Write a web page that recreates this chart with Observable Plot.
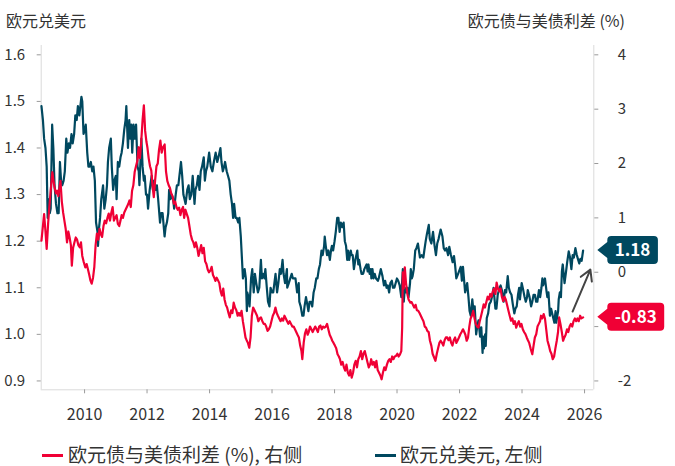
<!DOCTYPE html>
<html><head><meta charset="utf-8">
<script src="https://cdn.jsdelivr.net/npm/d3@7"></script>
<script src="https://cdn.jsdelivr.net/npm/@observablehq/plot@0.6"></script>
<style>
body{margin:0;background:#fff;font-family:"Noto Sans CJK SC","Noto Sans",sans-serif;}
#wrap{position:relative;width:675px;height:466px;}
#wrap svg{position:absolute;left:0;top:0;}
.title{position:absolute;top:9px;font-size:16px;line-height:22px;color:#333;white-space:nowrap;}
.sw{position:absolute;top:454px;width:21px;height:3px;}
.lt{position:absolute;top:444px;font-size:19px;line-height:19px;color:#333;white-space:nowrap;}
</style></head>
<body><div id="wrap">
<div class="title" style="left:6px">欧元兑美元</div>
<div class="title" style="right:50px">欧元债与美债利差 (%)</div>
<span class="sw" id="sw1" style="left:42px"></span><span class="lt" style="left:68px">欧元债与美债利差 (%), 右侧</span>
<span class="sw" id="sw2" style="left:375px"></span><span class="lt" style="left:400px">欧元兑美元, 左侧</span>
</div>
<script>
const RED = "#f00035", TEAL = "#00485f";
const FONT = '"Noto Sans CJK SC","Noto Sans",sans-serif';

// EUR/USD (left axis)
const eurusd = [
["2008-08-15",1.49],["2008-09-01",1.46],["2008-09-15",1.42],["2008-10-01",1.40],["2008-10-15",1.36],["2008-10-27",1.25],["2008-11-05",1.29],["2008-11-20",1.26],["2008-12-01",1.27],["2008-12-18",1.45],
["2009-01-01",1.40],["2009-01-15",1.32],["2009-02-01",1.28],["2009-02-18",1.26],["2009-03-04",1.26],["2009-03-19",1.37],["2009-04-01",1.33],["2009-04-15",1.32],["2009-05-01",1.33],["2009-05-15",1.35],
["2009-06-01",1.42],["2009-06-15",1.39],["2009-07-01",1.41],["2009-07-15",1.40],["2009-08-01",1.43],["2009-08-15",1.41],["2009-09-01",1.43],["2009-09-15",1.47],["2009-10-01",1.46],["2009-10-15",1.49],
["2009-11-01",1.47],["2009-11-25",1.51],["2009-12-05",1.50],["2009-12-20",1.43],["2010-01-05",1.44],["2010-01-15",1.45],["2010-02-01",1.39],["2010-02-15",1.36],["2010-03-01",1.36],["2010-03-15",1.37],
["2010-04-01",1.35],["2010-04-15",1.36],["2010-05-01",1.33],["2010-05-15",1.24],["2010-06-01",1.22],["2010-06-07",1.19],["2010-06-20",1.23],["2010-07-01",1.25],["2010-07-15",1.29],["2010-08-05",1.32],
["2010-08-20",1.27],["2010-09-05",1.29],["2010-09-20",1.32],["2010-10-01",1.37],["2010-10-15",1.40],["2010-11-04",1.42],["2010-11-15",1.36],["2010-12-01",1.31],["2010-12-15",1.33],["2011-01-01",1.34],
["2011-01-10",1.29],["2011-01-25",1.37],["2011-02-10",1.36],["2011-02-25",1.38],["2011-03-10",1.39],["2011-03-25",1.41],["2011-04-10",1.44],["2011-04-25",1.46],["2011-05-04",1.49],["2011-05-23",1.40],
["2011-06-07",1.46],["2011-06-20",1.42],["2011-07-01",1.45],["2011-07-12",1.39],["2011-07-27",1.45],["2011-08-10",1.42],["2011-08-26",1.45],["2011-09-12",1.36],["2011-09-26",1.35],["2011-10-04",1.32],
["2011-10-27",1.42],["2011-11-10",1.36],["2011-11-25",1.33],["2011-12-05",1.34],["2011-12-20",1.30],["2012-01-01",1.30],["2012-01-13",1.27],["2012-02-01",1.31],["2012-02-24",1.34],["2012-03-10",1.31],
["2012-03-25",1.33],["2012-04-10",1.31],["2012-04-25",1.32],["2012-05-10",1.29],["2012-06-01",1.24],["2012-06-15",1.26],["2012-07-01",1.26],["2012-07-24",1.21],["2012-08-05",1.23],["2012-08-20",1.24],
["2012-09-05",1.26],["2012-09-15",1.31],["2012-10-01",1.29],["2012-10-15",1.30],["2012-11-01",1.29],["2012-11-13",1.27],["2012-12-01",1.30],["2012-12-15",1.32],["2013-01-01",1.32],["2013-02-01",1.37],
["2013-02-15",1.34],["2013-03-01",1.30],["2013-03-27",1.28],["2013-04-15",1.31],["2013-05-01",1.32],["2013-05-15",1.29],["2013-06-01",1.30],["2013-06-18",1.34],["2013-07-09",1.28],["2013-07-20",1.31],
["2013-08-05",1.32],["2013-08-20",1.34],["2013-09-05",1.31],["2013-09-20",1.35],["2013-10-05",1.36],["2013-10-25",1.38],["2013-11-07",1.33],["2013-11-20",1.35],["2013-12-05",1.36],["2013-12-27",1.39],
["2014-01-15",1.36],["2014-02-03",1.35],["2014-02-20",1.37],["2014-03-13",1.39],["2014-04-01",1.37],["2014-04-15",1.38],["2014-05-08",1.40],["2014-05-20",1.37],["2014-06-05",1.35],["2014-06-20",1.36],
["2014-07-01",1.37],["2014-07-20",1.35],["2014-08-05",1.34],["2014-08-20",1.33],["2014-09-05",1.30],["2014-09-20",1.28],["2014-10-03",1.25],["2014-10-15",1.28],["2014-11-01",1.25],["2014-11-15",1.25],
["2014-12-01",1.24],["2014-12-15",1.25],["2015-01-01",1.21],["2015-01-15",1.16],["2015-01-26",1.12],["2015-02-15",1.14],["2015-03-01",1.12],["2015-03-13",1.05],["2015-03-18",1.09],["2015-04-01",1.08],
["2015-04-13",1.06],["2015-05-01",1.12],["2015-05-15",1.14],["2015-06-01",1.09],["2015-06-15",1.13],["2015-07-01",1.11],["2015-07-20",1.09],["2015-08-05",1.10],["2015-08-24",1.16],["2015-09-05",1.12],
["2015-09-20",1.13],["2015-10-05",1.12],["2015-10-15",1.14],["2015-11-01",1.10],["2015-11-15",1.07],["2015-12-02",1.06],["2015-12-15",1.10],["2016-01-01",1.09],["2016-01-15",1.09],["2016-02-11",1.13],
["2016-02-29",1.09],["2016-03-15",1.11],["2016-04-01",1.14],["2016-04-15",1.13],["2016-05-03",1.16],["2016-05-15",1.13],["2016-06-01",1.11],["2016-06-23",1.14],["2016-06-27",1.10],["2016-07-15",1.11],
["2016-08-01",1.12],["2016-08-18",1.13],["2016-09-01",1.12],["2016-09-15",1.12],["2016-10-01",1.12],["2016-10-20",1.09],["2016-11-08",1.11],["2016-11-15",1.07],["2016-12-01",1.06],["2016-12-20",1.04],
["2017-01-03",1.04],["2017-01-15",1.06],["2017-02-01",1.08],["2017-02-20",1.06],["2017-03-01",1.05],["2017-03-15",1.07],["2017-04-01",1.07],["2017-04-15",1.06],["2017-05-01",1.09],["2017-05-15",1.10],
["2017-06-01",1.12],["2017-06-15",1.12],["2017-07-01",1.14],["2017-07-15",1.15],["2017-08-01",1.18],["2017-08-15",1.17],["2017-09-01",1.19],["2017-09-08",1.21],["2017-09-20",1.19],["2017-10-05",1.17],
["2017-10-20",1.18],["2017-11-07",1.16],["2017-11-20",1.18],["2017-12-01",1.19],["2017-12-15",1.18],["2018-01-01",1.20],["2018-01-15",1.22],["2018-02-01",1.25],["2018-02-15",1.25],["2018-03-01",1.22],
["2018-03-15",1.24],["2018-04-01",1.23],["2018-04-17",1.24],["2018-05-01",1.20],["2018-05-15",1.19],["2018-05-29",1.16],["2018-06-07",1.18],["2018-06-21",1.16],["2018-07-09",1.18],["2018-07-20",1.17],
["2018-08-01",1.17],["2018-08-15",1.14],["2018-09-01",1.16],["2018-09-24",1.18],["2018-10-05",1.15],["2018-10-15",1.16],["2018-11-01",1.14],["2018-11-12",1.13],["2018-12-01",1.13],["2018-12-15",1.14],
["2019-01-10",1.15],["2019-01-23",1.135],["2019-02-01",1.15],["2019-02-15",1.13],["2019-03-01",1.14],["2019-03-07",1.12],["2019-03-20",1.14],["2019-04-01",1.12],["2019-04-15",1.13],["2019-05-01",1.12],
["2019-05-23",1.115],["2019-06-01",1.12],["2019-06-25",1.14],["2019-07-15",1.125],["2019-08-01",1.105],["2019-08-15",1.115],["2019-09-01",1.10],["2019-09-15",1.105],["2019-10-01",1.09],["2019-10-15",1.11],
["2019-11-01",1.115],["2019-11-15",1.10],["2019-12-01",1.10],["2019-12-31",1.12],["2020-01-15",1.115],["2020-02-01",1.105],["2020-02-20",1.08],["2020-03-09",1.14],["2020-03-20",1.07],["2020-04-01",1.10],
["2020-04-15",1.09],["2020-05-01",1.10],["2020-05-15",1.08],["2020-06-01",1.11],["2020-06-10",1.14],["2020-06-22",1.12],["2020-07-01",1.125],["2020-07-15",1.14],["2020-08-01",1.18],["2020-08-15",1.185],
["2020-09-01",1.195],["2020-09-25",1.165],["2020-10-15",1.17],["2020-11-04",1.165],["2020-11-15",1.18],["2020-12-01",1.20],["2020-12-15",1.215],["2021-01-06",1.235],["2021-01-18",1.205],["2021-02-05",1.195],
["2021-02-25",1.22],["2021-03-15",1.19],["2021-03-31",1.17],["2021-04-15",1.195],["2021-05-01",1.205],["2021-05-25",1.225],["2021-06-15",1.21],["2021-06-30",1.185],["2021-07-15",1.18],["2021-08-01",1.185],
["2021-08-20",1.17],["2021-09-03",1.188],["2021-09-20",1.172],["2021-10-12",1.155],["2021-10-28",1.168],["2021-11-10",1.148],["2021-11-24",1.12],["2021-12-15",1.13],["2022-01-14",1.145],["2022-01-28",1.115],
["2022-02-10",1.145],["2022-03-07",1.09],["2022-03-31",1.11],["2022-04-15",1.08],["2022-04-28",1.05],["2022-05-12",1.04],["2022-05-30",1.075],["2022-06-15",1.045],["2022-06-27",1.06],["2022-07-14",1.00],
["2022-07-29",1.02],["2022-08-10",1.03],["2022-08-29",0.995],["2022-09-12",1.015],["2022-09-27",0.96],["2022-10-04",0.995],["2022-10-13",0.97],["2022-10-27",1.00],["2022-11-03",0.975],["2022-11-15",1.035],
["2022-12-01",1.045],["2022-12-15",1.065],["2023-01-01",1.07],["2023-01-26",1.09],["2023-02-02",1.10],["2023-02-24",1.055],["2023-03-08",1.055],["2023-03-23",1.085],["2023-04-14",1.10],["2023-04-26",1.105],
["2023-05-10",1.095],["2023-05-31",1.07],["2023-06-15",1.095],["2023-06-30",1.09],["2023-07-18",1.125],["2023-07-31",1.10],["2023-08-15",1.09],["2023-08-31",1.085],["2023-09-15",1.065],["2023-10-03",1.045],
["2023-10-15",1.055],["2023-10-31",1.06],["2023-11-15",1.085],["2023-11-29",1.10],["2023-12-08",1.075],["2023-12-28",1.11],["2024-01-15",1.095],["2024-01-31",1.08],["2024-02-14",1.07],["2024-02-29",1.08],
["2024-03-08",1.095],["2024-03-29",1.08],["2024-04-16",1.06],["2024-04-30",1.07],["2024-05-15",1.085],["2024-05-31",1.085],["2024-06-14",1.07],["2024-06-28",1.07],["2024-07-17",1.095],["2024-07-31",1.08],
["2024-08-15",1.10],["2024-08-26",1.12],["2024-09-03",1.105],["2024-09-25",1.12],["2024-10-15",1.09],["2024-10-23",1.08],["2024-11-05",1.09],["2024-11-22",1.04],["2024-12-06",1.055],["2024-12-31",1.035],
["2025-01-13",1.025],["2025-01-27",1.05],["2025-02-03",1.025],["2025-02-26",1.05],["2025-03-05",1.075],["2025-03-18",1.09],["2025-03-31",1.08],["2025-04-11",1.135],["2025-04-21",1.15],["2025-05-12",1.11],
["2025-05-30",1.135],["2025-06-12",1.155],["2025-06-30",1.178],["2025-07-15",1.165],["2025-07-31",1.14],["2025-08-15",1.17],["2025-08-29",1.165],["2025-09-16",1.185],["2025-09-30",1.172],["2025-10-15",1.162],
["2025-10-31",1.152],["2025-11-14",1.162],["2025-11-28",1.158],["2025-12-15",1.18]
];

// Euro vs US government bond yield spread, % (right axis)
const spread = [
["2008-08-15",0.58],["2008-09-01",0.85],["2008-09-15",1.07],["2008-10-01",0.75],["2008-10-15",0.43],["2008-11-01",0.9],["2008-11-15",1.2],["2008-12-01",1.5],["2008-12-20",1.84],["2009-01-01",1.7],
["2009-01-15",1.56],["2009-02-01",1.45],["2009-02-15",1.5],["2009-03-01",1.4],["2009-03-25",1.68],["2009-04-10",1.3],["2009-04-25",1.1],["2009-05-10",0.95],["2009-05-25",0.8],["2009-06-10",0.55],
["2009-06-25",0.75],["2009-07-10",0.64],["2009-07-25",0.5],["2009-08-05",0.12],["2009-08-20",0.45],["2009-09-05",0.55],["2009-09-20",0.64],["2009-10-05",0.6],["2009-10-20",0.5],["2009-11-05",0.46],
["2009-11-20",0.55],["2009-12-05",0.3],["2009-12-20",0.2],["2010-01-10",0.09],["2010-01-25",0.15],["2010-02-10",0.05],["2010-02-25",-0.05],["2010-03-10",-0.15],["2010-03-25",-0.21],["2010-04-10",-0.1],
["2010-04-25",0.1],["2010-05-10",0.5],["2010-05-25",0.71],["2010-06-10",0.6],["2010-06-25",0.8],["2010-07-10",0.7],["2010-07-25",0.65],["2010-08-10",0.85],["2010-08-25",0.95],["2010-09-10",0.9],
["2010-09-25",1.0],["2010-10-10",1.08],["2010-10-25",0.95],["2010-11-10",1.1],["2010-11-25",1.2],["2010-12-10",0.95],["2010-12-25",1.0],["2011-01-10",1.05],["2011-01-25",0.89],["2011-02-10",0.85],
["2011-02-25",0.95],["2011-03-10",1.05],["2011-03-25",1.0],["2011-04-10",1.1],["2011-04-25",1.15],["2011-05-10",1.2],["2011-05-25",1.25],["2011-06-10",1.32],["2011-06-25",1.2],["2011-07-10",1.5],
["2011-07-25",1.6],["2011-08-10",1.85],["2011-08-25",1.95],["2011-09-10",2.05],["2011-09-25",2.3],["2011-10-10",2.1],["2011-10-25",2.4],["2011-11-10",2.8],["2011-11-25",3.07],["2011-12-10",2.6],
["2011-12-25",2.4],["2012-01-05",2.3],["2012-01-20",2.1],["2012-02-05",1.95],["2012-02-20",1.87],["2012-03-05",1.6],["2012-03-20",1.38],["2012-04-05",1.7],["2012-04-20",1.95],["2012-05-05",2.0],
["2012-05-20",2.25],["2012-06-05",2.42],["2012-06-20",2.2],["2012-07-05",2.3],["2012-07-25",2.35],["2012-08-10",1.85],["2012-08-25",1.68],["2012-09-10",1.6],["2012-09-25",1.55],["2012-10-10",1.45],
["2012-10-25",1.4],["2012-11-10",1.26],["2012-11-25",1.3],["2012-12-10",1.2],["2012-12-25",1.15],["2013-01-10",1.19],["2013-01-25",1.05],["2013-02-10",1.15],["2013-02-25",1.2],["2013-03-10",1.0],
["2013-03-25",1.15],["2013-04-10",1.07],["2013-04-25",1.0],["2013-05-10",0.85],["2013-05-25",0.7],["2013-06-10",0.6],["2013-06-25",0.55],["2013-07-10",0.46],["2013-07-25",0.55],["2013-08-10",0.45],
["2013-08-25",0.3],["2013-09-10",0.4],["2013-09-25",0.5],["2013-10-10",0.35],["2013-10-25",0.45],["2013-11-10",0.2],["2013-11-25",0.15],["2013-12-10",0.05],["2013-12-25",0.0],["2014-01-10",0.03],
["2014-01-25",0.1],["2014-02-10",-0.05],["2014-02-25",-0.1],["2014-03-10",-0.16],["2014-03-25",-0.1],["2014-04-10",-0.15],["2014-04-25",-0.2],["2014-05-10",-0.35],["2014-05-25",-0.43],["2014-06-10",-0.3],
["2014-06-25",-0.5],["2014-07-10",-0.6],["2014-07-25",-0.65],["2014-08-10",-0.75],["2014-08-25",-0.83],["2014-09-10",-0.7],["2014-09-25",-0.75],["2014-10-10",-0.56],["2014-10-25",-0.65],["2014-11-10",-0.7],
["2014-11-25",-0.8],["2014-12-10",-0.75],["2014-12-25",-0.8],["2015-01-10",-0.71],["2015-01-25",-0.9],["2015-02-10",-1.05],["2015-02-25",-1.2],["2015-03-10",-1.25],["2015-03-25",-1.3],["2015-04-10",-1.39],
["2015-04-25",-1.2],["2015-05-10",-0.8],["2015-05-25",-0.65],["2015-06-10",-0.7],["2015-06-25",-0.75],["2015-07-10",-0.8],["2015-07-25",-0.9],["2015-08-10",-0.85],["2015-08-25",-0.83],["2015-09-10",-0.9],
["2015-09-25",-0.95],["2015-10-10",-0.95],["2015-10-25",-1.0],["2015-11-10",-1.08],["2015-11-25",-1.05],["2015-12-10",-1.0],["2015-12-25",-0.9],["2016-01-10",-0.8],["2016-01-25",-0.75],["2016-02-10",-0.65],
["2016-02-25",-0.75],["2016-03-10",-0.8],["2016-03-25",-0.85],["2016-04-10",-0.9],["2016-04-25",-0.85],["2016-05-10",-0.89],["2016-05-25",-0.8],["2016-06-10",-0.85],["2016-06-25",-0.9],["2016-07-10",-0.95],
["2016-07-25",-0.9],["2016-08-10",-0.95],["2016-08-25",-1.0],["2016-09-10",-1.0],["2016-09-25",-1.05],["2016-10-10",-1.1],["2016-10-25",-1.15],["2016-11-10",-1.2],["2016-11-25",-1.35],["2016-12-10",-1.45],
["2016-12-20",-1.6],["2017-01-05",-1.3],["2017-01-20",-1.13],["2017-02-05",-1.05],["2017-02-20",-1.15],["2017-03-05",-1.1],["2017-03-20",-1.0],["2017-04-05",-1.05],["2017-04-20",-1.1],["2017-05-05",-1.05],
["2017-05-20",-1.0],["2017-06-05",-1.05],["2017-06-20",-1.1],["2017-07-05",-1.0],["2017-07-20",-0.98],["2017-08-05",-1.05],["2017-08-20",-1.0],["2017-09-05",-1.02],["2017-09-20",-1.0],["2017-10-05",-0.95],
["2017-10-20",-1.05],["2017-11-05",-1.15],["2017-11-20",-1.2],["2017-12-05",-1.26],["2017-12-20",-1.3],["2018-01-05",-1.35],["2018-01-20",-1.4],["2018-02-05",-1.51],["2018-02-20",-1.55],["2018-03-05",-1.6],
["2018-03-20",-1.7],["2018-04-05",-1.65],["2018-04-20",-1.75],["2018-05-05",-1.81],["2018-05-20",-1.7],["2018-06-05",-1.85],["2018-06-20",-1.9],["2018-07-05",-1.8],["2018-07-20",-1.94],["2018-08-05",-1.85],
["2018-08-20",-1.7],["2018-09-05",-1.63],["2018-09-20",-1.75],["2018-10-05",-1.6],["2018-10-20",-1.55],["2018-11-05",-1.45],["2018-11-20",-1.6],["2018-12-05",-1.5],["2018-12-20",-1.45],["2019-01-05",-1.55],
["2019-01-20",-1.65],["2019-02-05",-1.75],["2019-02-20",-1.7],["2019-03-05",-1.6],["2019-03-20",-1.7],["2019-04-05",-1.65],["2019-04-20",-1.75],["2019-05-05",-1.63],["2019-05-20",-1.8],["2019-06-05",-1.85],
["2019-06-20",-1.9],["2019-07-05",-1.97],["2019-07-20",-1.85],["2019-08-05",-1.75],["2019-08-20",-1.8],["2019-09-05",-1.7],["2019-09-20",-1.63],["2019-10-05",-1.6],["2019-10-20",-1.65],["2019-11-05",-1.55],
["2019-11-20",-1.6],["2019-12-05",-1.55],["2019-12-20",-1.54],["2020-01-05",-1.5],["2020-01-20",-1.55],["2020-02-05",-1.51],["2020-02-20",-1.45],["2020-03-01",-1.02],["2020-03-09",0.0],["2020-03-20",-0.3],
["2020-04-01",0.09],["2020-04-15",-0.2],["2020-05-01",-0.4],["2020-05-15",-0.5],["2020-06-05",-0.56],["2020-06-20",-0.55],["2020-07-05",-0.6],["2020-07-20",-0.65],["2020-08-05",-0.6],["2020-08-20",-0.7],
["2020-09-05",-0.71],["2020-09-20",-0.75],["2020-10-05",-0.8],["2020-10-20",-0.85],["2020-11-05",-0.9],["2020-11-20",-1.0],["2020-12-05",-1.02],["2020-12-20",-1.08],["2021-01-05",-1.1],["2021-01-20",-1.26],
["2021-02-05",-1.35],["2021-02-20",-1.5],["2021-03-05",-1.55],["2021-03-25",-1.63],["2021-04-10",-1.5],["2021-04-25",-1.4],["2021-05-10",-1.3],["2021-05-25",-1.26],["2021-06-10",-1.3],["2021-06-25",-1.35],
["2021-07-10",-1.25],["2021-07-25",-1.2],["2021-08-10",-1.2],["2021-08-25",-1.25],["2021-09-10",-1.2],["2021-09-25",-1.3],["2021-10-10",-1.35],["2021-10-25",-1.25],["2021-11-10",-1.2],["2021-11-25",-1.3],
["2021-12-10",-1.25],["2021-12-25",-1.2],["2022-01-10",-1.14],["2022-01-25",-1.1],["2022-02-10",-1.05],["2022-02-25",-1.1],["2022-03-10",-1.15],["2022-03-25",-1.26],["2022-04-10",-1.2],["2022-04-25",-1.0],
["2022-05-10",-0.85],["2022-05-25",-0.8],["2022-06-10",-0.71],["2022-06-25",-0.85],["2022-07-10",-0.95],["2022-07-25",-1.0],["2022-08-10",-1.02],["2022-08-25",-0.9],["2022-09-10",-0.8],["2022-09-25",-0.7],
["2022-10-10",-0.59],["2022-10-25",-0.65],["2022-11-10",-0.55],["2022-11-25",-0.45],["2022-12-10",-0.5],["2022-12-25",-0.4],["2023-01-10",-0.45],["2023-01-25",-0.35],["2023-02-10",-0.3],["2023-02-25",-0.4],
["2023-03-10",-0.19],["2023-03-25",-0.3],["2023-04-10",-0.35],["2023-04-25",-0.3],["2023-05-10",-0.45],["2023-05-25",-0.53],["2023-06-10",-0.45],["2023-06-25",-0.5],["2023-07-10",-0.6],["2023-07-25",-0.7],
["2023-08-10",-0.8],["2023-08-25",-0.89],["2023-09-10",-0.85],["2023-09-25",-0.95],["2023-10-10",-0.9],["2023-10-25",-1.02],["2023-11-10",-0.95],["2023-11-25",-0.9],["2023-12-10",-1.0],["2023-12-25",-0.95],
["2024-01-10",-1.05],["2024-01-25",-1.1],["2024-02-10",-1.14],["2024-02-25",-1.2],["2024-03-10",-1.25],["2024-03-25",-1.3],["2024-04-10",-1.4],["2024-04-30",-1.51],["2024-05-15",-1.35],["2024-05-30",-1.2],
["2024-06-15",-1.14],["2024-06-30",-1.0],["2024-07-15",-0.95],["2024-07-30",-0.9],["2024-08-10",-0.8],["2024-08-25",-0.85],["2024-09-10",-0.77],["2024-09-25",-0.85],["2024-10-10",-1.05],["2024-10-25",-1.26],
["2024-11-10",-1.35],["2024-11-25",-1.45],["2024-12-10",-1.5],["2024-12-25",-1.6],["2025-01-10",-1.55],["2025-01-25",-1.4],["2025-02-10",-1.26],["2025-02-25",-1.1],["2025-03-10",-0.83],["2025-03-25",-0.95],
["2025-04-10",-1.1],["2025-04-25",-1.26],["2025-05-10",-1.2],["2025-05-25",-1.15],["2025-06-10",-1.05],["2025-06-25",-1.1],["2025-07-10",-1.0],["2025-07-25",-0.95],["2025-08-10",-1.0],["2025-08-25",-0.9],
["2025-09-10",-0.85],["2025-09-25",-0.9],["2025-10-10",-0.85],["2025-10-25",-0.9],["2025-11-10",-0.8],["2025-11-25",-0.85],["2025-12-15",-0.83]
];

const leftTicks = [0.9, 1.0, 1.1, 1.2, 1.3, 1.4, 1.5, 1.6];
const rightTicks = [-2, -1, 0, 1, 2, 3, 4];
const rightHiddenLabels = [-1]; // covered by the end-value tag in the original
const yearTicks = [2010, 2012, 2014, 2016, 2018, 2020, 2022, 2024, 2026];
const xDomain = ["2008-08-12", "2026-04-19"];
const yDomain = [0.881, 1.62];
const arrowPts = [["2025-08-14", 1.049], ["2026-03-10", 1.139]];

// map right-axis (spread) values onto the left scale
const L0 = leftTicks[0], L1 = leftTicks[leftTicks.length - 1];
const R0 = rightTicks[0], R1 = rightTicks[rightTicks.length - 1];
const toLeft = s => L0 + (s - R0) * (L1 - L0) / (R1 - R0);
const fromLeft = v => R0 + (v - L0) * (R1 - R0) / (L1 - L0);

const lastFx = eurusd[eurusd.length - 1];
const lastSp = spread[spread.length - 1];
const endLabels = [
  {y: lastFx[1], text: lastFx[1].toFixed(2), fill: TEAL},
  {y: toLeft(lastSp[1]), text: lastSp[1].toFixed(2), fill: RED}
];

const measure = (() => {
  const c = document.createElement("canvas").getContext("2d");
  c.font = `bold 17px ${FONT}`;
  return t => c.measureText(t).width;
})();

function labelMark(index, scales, values, dimensions) {
  const ns = "http://www.w3.org/2000/svg";
  const g = document.createElementNS(ns, "g");
  const xA = dimensions.width - dimensions.marginRight;
  for (const L of endLabels) {
    const y = scales.y(L.y);
    const tip = xA + 4, bx = tip + 10, h = 28, r = 4, ph = 8;
    const w = measure(L.text) + 15;
    const t = y - h / 2, b = y + h / 2;
    const p = document.createElementNS(ns, "path");
    p.setAttribute("d", `M${tip},${y}L${bx},${y - ph}L${bx},${t + r}Q${bx},${t} ${bx + r},${t}L${bx + w - r},${t}Q${bx + w},${t} ${bx + w},${t + r}L${bx + w},${b - r}Q${bx + w},${b} ${bx + w - r},${b}L${bx + r},${b}Q${bx},${b} ${bx},${b - r}L${bx},${y + ph}Z`);
    p.setAttribute("fill", L.fill);
    g.appendChild(p);
    const tx = document.createElementNS(ns, "text");
    tx.setAttribute("x", bx + w / 2);
    tx.setAttribute("y", y);
    tx.setAttribute("dy", "0.35em");
    tx.setAttribute("text-anchor", "middle");
    tx.setAttribute("fill", "#fff");
    tx.setAttribute("font-size", "17px");
    tx.setAttribute("font-weight", "bold");
    tx.setAttribute("font-family", FONT);
    tx.textContent = L.text;
    g.appendChild(tx);
  }
  return g;
}

const parse = s => new Date(s);
document.getElementById("sw1").style.background = RED;
document.getElementById("sw2").style.background = TEAL;

const chart = Plot.plot({
  width: 675, height: 440,
  marginTop: 45, marginBottom: 50.7, marginLeft: 40.7, marginRight: 81.7,
  style: {fontFamily: FONT, fontSize: "15px", color: "#333", background: "transparent", overflow: "visible"},
  x: {type: "utc", domain: xDomain.map(parse)},
  y: {domain: yDomain},
  marks: [
    Plot.ruleX([parse(xDomain[0]), parse(xDomain[1])], {stroke: "#dadada", strokeWidth: 1}),
    Plot.ruleY([yDomain[0]], {stroke: "#dadada", strokeWidth: 1}),
    Plot.axisY(leftTicks, {anchor: "left", tickSize: 4, tickPadding: 12, tickFormat: d => d.toFixed(1), stroke: "#9a9a9a", fill: "#333", fontSize: 15, label: null}),
    Plot.axisY(rightTicks.map(toLeft), {anchor: "right", tickSize: 4, tickPadding: 20,
      tickFormat: v => { const s = Math.round(fromLeft(v)); return rightHiddenLabels.includes(s) ? "" : String(s); },
      stroke: "#9a9a9a", fill: "#333", fontSize: 15, label: null}),
    Plot.axisX(yearTicks.map(y => new Date(Date.UTC(y, 0, 1))), {tickSize: 4, tickPadding: 15, tickFormat: d3.utcFormat("%Y"), stroke: "#9a9a9a", fill: "#333", fontSize: 16, label: null}),
    Plot.line(eurusd, {x: d => parse(d[0]), y: d => d[1], stroke: TEAL, strokeWidth: 2.2}),
    Plot.line(spread, {x: d => parse(d[0]), y: d => toLeft(d[1]), stroke: RED, strokeWidth: 2.2}),
    Plot.arrow([arrowPts], {x1: d => parse(d[0][0]), y1: d => d[0][1], x2: d => parse(d[1][0]), y2: d => d[1][1], stroke: "#444", strokeWidth: 2, headLength: 9}),
    labelMark
  ]
});
document.getElementById("wrap").appendChild(chart);
</script>
</body></html>
